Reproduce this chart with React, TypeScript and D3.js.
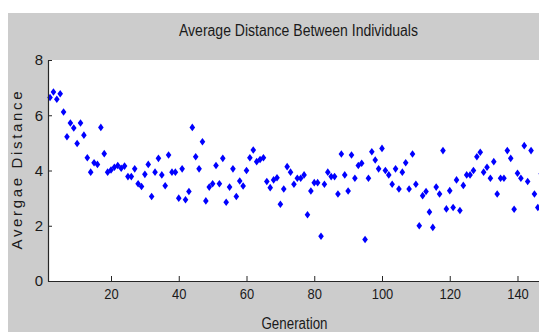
import { useEffect, useRef } from 'react';
import * as d3 from 'd3';

const chartTitle = 'Average Distance Between Individuals';
const xLabel = 'Generation';
const yLabel = 'Avergae Distance';

// one value per generation, starting at firstGeneration
const firstGeneration = 2;
const avgDistance = [
  6.64, 6.84, 6.58, 6.78, 6.12, 5.22, 5.72, 5.54, 4.98, 5.72,
  5.28, 4.46, 3.94, 4.28, 4.22, 5.56, 4.61, 3.94, 4.02, 4.12,
  4.18, 4.08, 4.16, 3.78, 3.78, 4.06, 3.52, 3.42, 3.86, 4.22,
  3.06, 3.94, 4.44, 3.84, 3.45, 4.56, 3.94, 3.94, 3.0, 4.06,
  2.94, 3.24, 5.56, 4.5, 4.06, 5.04, 2.9, 3.4, 3.52, 4.18,
  3.52, 4.44, 2.85, 3.4, 4.06, 3.06, 3.62, 3.44, 4.0, 4.46,
  4.74, 4.32, 4.4, 4.46, 3.6, 3.38, 3.66, 3.74, 2.78, 3.33,
  4.14, 3.94, 3.5, 3.72, 3.72, 3.84, 2.4, 3.26, 3.56, 3.56,
  1.62, 3.5, 3.94, 3.78, 3.78, 3.15, 4.6, 3.84, 3.26, 4.56,
  3.72, 4.18, 4.26, 1.5, 3.72, 4.68, 4.38, 4.06, 4.8, 4.0,
  3.84, 3.5, 4.06, 3.33, 3.94, 4.28, 3.33, 4.6, 3.5, 2.0,
  3.09, 3.24, 2.5, 1.94, 3.4, 3.15, 4.72, 2.61, 3.27, 2.66,
  3.66, 2.55, 3.46, 3.84, 3.84, 4.0, 4.5, 4.66, 3.94, 4.12,
  3.72, 4.32, 3.15, 3.72, 3.72, 4.72, 4.44, 2.6, 3.9, 3.72,
  4.9, 3.6, 4.72, 3.15, 2.66, 3.88,
];

const xTicks = [20, 40, 60, 80, 100, 120, 140];
const yTicks = [0, 2, 4, 6, 8];

const App = () => {
  const chartRef = useRef<SVGSVGElement>(null);

  useEffect(() => {
    if (!chartRef.current) return;
    const width = 539;
    const height = 332;
    const svg = d3.select(chartRef.current);
    svg.selectAll('*').remove();

    const font = '"Liberation Sans", Arial, sans-serif';
    const plot = { left: 48, top: 60, right: 549, bottom: 281 };

    // figure background
    svg.append('rect').attr('width', width).attr('height', height).attr('fill', '#ffffff');
    svg.append('rect')
      .attr('x', 8).attr('y', 13)
      .attr('width', width - 8).attr('height', height - 13)
      .attr('fill', '#cccccc');

    const x = d3.scaleLinear().domain([1.4, 149.3]).range([plot.left, plot.right]);
    const y = d3.scaleLinear().domain([0, 8]).range([plot.bottom, plot.top]);

    svg.append('rect')
      .attr('x', plot.left).attr('y', plot.top)
      .attr('width', plot.right - plot.left).attr('height', plot.bottom - plot.top)
      .attr('fill', '#ffffff');

    // diamonds
    const diamond = 'M0,-3.8L2.8,0L0,3.8L-2.8,0Z';
    svg.append('g')
      .selectAll('path')
      .data(avgDistance)
      .enter()
      .append('path')
      .attr('d', diamond)
      .attr('transform', (d, i) => `translate(${x(firstGeneration + i)},${y(d)})`)
      .attr('fill', '#0000ff');

    // axes
    const xAxis = svg.append('g')
      .attr('transform', `translate(0,${plot.bottom})`)
      .call(d3.axisBottom(x).tickValues(xTicks).tickSize(-5).tickSizeOuter(0).tickPadding(7));
    const yAxis = svg.append('g')
      .attr('transform', `translate(${plot.left},0)`)
      .call(d3.axisLeft(y).tickValues(yTicks).tickSize(-4).tickSizeOuter(0).tickPadding(5));

    [xAxis, yAxis].forEach(ax => {
      ax.select('.domain').attr('stroke', '#262626').attr('stroke-width', 1.2);
      ax.selectAll('.tick line').attr('stroke', '#262626');
      ax.selectAll('.tick text')
        .attr('fill', '#1a1a1a')
        .style('font-family', font)
        .style('font-size', '15px');
    });
    xAxis.selectAll('.tick text')
      .attr('textLength', (d: any) => (String(d).length * 7.2))
      .attr('lengthAdjust', 'spacingAndGlyphs');

    // labels
    svg.append('text')
      .attr('x', (plot.left + plot.right) / 2)
      .attr('y', 36)
      .attr('text-anchor', 'middle')
      .attr('textLength', 239)
      .attr('lengthAdjust', 'spacingAndGlyphs')
      .style('font-family', font)
      .style('font-size', '16px')
      .attr('fill', '#1a1a1a')
      .text(chartTitle);

    svg.append('text')
      .attr('x', (plot.left + plot.right) / 2 - 4)
      .attr('y', 329)
      .attr('text-anchor', 'middle')
      .attr('textLength', 66)
      .attr('lengthAdjust', 'spacingAndGlyphs')
      .style('font-family', font)
      .style('font-size', '16px')
      .attr('fill', '#1a1a1a')
      .text(xLabel);

    svg.append('text')
      .attr('transform', `translate(22,${(plot.top + plot.bottom) / 2}) rotate(-90)`)
      .attr('text-anchor', 'middle')
      .attr('textLength', 158)
      .attr('lengthAdjust', 'spacing')
      .style('font-family', font)
      .style('font-size', '15px')
      .attr('fill', '#1a1a1a')
      .text(yLabel);
  }, []);

  return (
    <svg
      ref={chartRef}
      width={539}
      height={332}
      style={{ position: 'absolute', left: 0, top: 0, display: 'block' }}
    />
  );
};

export default App;
